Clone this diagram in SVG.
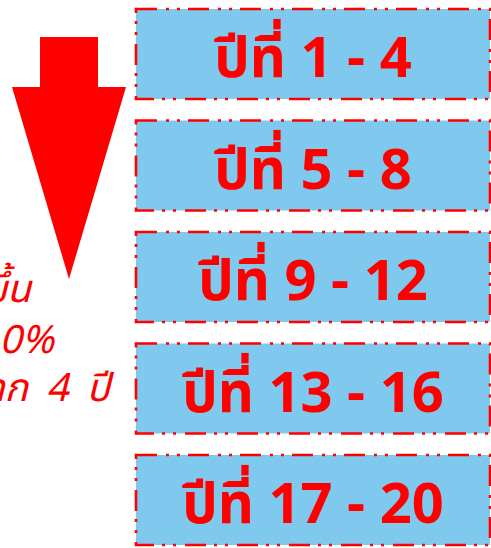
<svg xmlns="http://www.w3.org/2000/svg" width="491" height="548" viewBox="0 0 491 548">
<style>
.box{fill:#7FC9EF;stroke:#FF0000;stroke-width:2.6;stroke-dasharray:21 9 3 8 3 8}
.lbl{font-family:"Noto Sans Thai","Noto Sans","DejaVu Sans",sans-serif;font-weight:bold;font-size:56px;fill:#FF0000;text-anchor:middle}
.side{font-family:"Noto Sans Thai","Noto Sans","DejaVu Sans",sans-serif;font-style:italic;font-size:39px;fill:#FF0000;text-anchor:end}
</style>
<rect width="491" height="548" fill="#FFFFFF"/>
<g id="arrow">
<polygon points="40,37 98,37 98,87 126,87 69,279 12,87 40,87" fill="#FF0000"/>
</g>
<g id="side-text">
<text class="side" x="31" y="302">เพิ่มขึ้น</text>
<text class="side" x="54" y="353">10%</text>
<text class="side" x="110" y="401" word-spacing="8">ทุก 4 ปี</text>
</g>
<g id="box1"><rect class="box" x="136" y="9" width="354" height="90"/><text class="lbl" x="313" y="77">ปีที่ 1 - 4</text></g>
<g id="box2"><rect class="box" x="136" y="120.5" width="354" height="90"/><text class="lbl" x="313" y="188.5">ปีที่ 5 - 8</text></g>
<g id="box3"><rect class="box" x="136" y="232" width="354" height="90"/><text class="lbl" x="313" y="300">ปีที่ 9 - 12</text></g>
<g id="box4"><rect class="box" x="136" y="343.5" width="354" height="90"/><text class="lbl" x="313" y="411.5">ปีที่ 13 - 16</text></g>
<g id="box5"><rect class="box" x="136" y="455" width="354" height="90"/><text class="lbl" x="313" y="523">ปีที่ 17 - 20</text></g>
<g id="connectors"/>
</svg>
